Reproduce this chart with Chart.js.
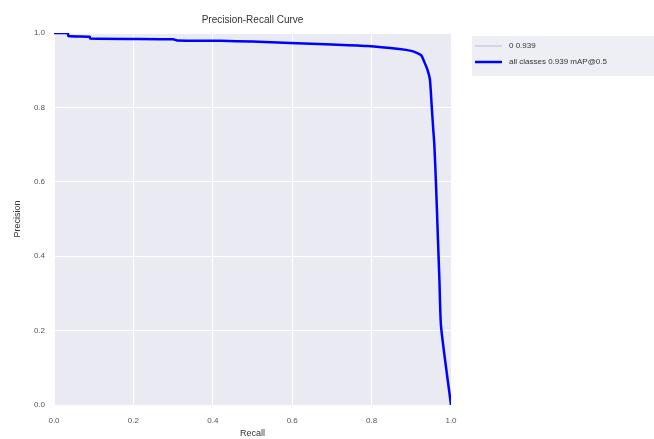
<!DOCTYPE html>
<html>
<head>
<meta charset="utf-8">
<script src="https://cdn.jsdelivr.net/npm/chart.js@4.4.1/dist/chart.umd.min.js"></script>
<style>
  html, body { margin: 0; padding: 0; background: #fff; }
  #wrap { width: 654px; height: 439px; }
</style>
</head>
<body>
<div id="wrap"><canvas id="prChart" width="654" height="439"></canvas></div>
<script>
// values
const recall = [0, 0.035, 0.036, 0.09, 0.091, 0.3, 0.31, 0.42, 0.5, 0.595, 0.7, 0.79, 0.87, 0.9, 0.915, 0.925, 0.934, 0.941, 0.947, 0.951, 0.955, 0.958, 0.962, 0.967, 0.971, 0.975, 1.0];
const precision = [1.0, 1.0, 0.992, 0.99, 0.985, 0.983, 0.98, 0.979, 0.977, 0.973, 0.969, 0.965, 0.957, 0.952, 0.946, 0.94, 0.919, 0.9, 0.874, 0.81, 0.745, 0.7, 0.6, 0.45, 0.33, 0.21, 0.0];
const seriesLabels = ['0 0.939', 'all classes 0.939 mAP@0.5'];
const tickValues = [0, 0.2, 0.4, 0.6, 0.8, 1.0];
const chartTitle = 'Precision-Recall Curve';

const points = recall.map((r, i) => ({ x: r, y: precision[i] }));

const font = 'Liberation Sans, Arial, sans-serif';

// grey plot background like seaborn darkgrid
const plotBg = {
    id: 'plotBg',
    beforeDraw(chart) {
        const { ctx, chartArea: a } = chart;
        ctx.save();
        ctx.fillStyle = '#eaeaf2';
        ctx.fillRect(a.left, a.top, a.right - a.left, a.bottom - a.top);
        ctx.restore();
    }
};

// title centred over the axes, legend box outside on the right
const decorations = {
    id: 'decorations',
    afterDraw(chart) {
        const ctx = chart.ctx;
        const a = chart.chartArea;
        ctx.save();
        ctx.font = '10px ' + font;
        ctx.fillStyle = '#333';
        ctx.textAlign = 'center';
        ctx.textBaseline = 'middle';
        ctx.fillText(chartTitle, (a.left + a.right) / 2, 20);

        const x0 = a.right + 21;
        const y0 = 36;
        ctx.fillStyle = 'rgba(234,234,242,0.8)';
        ctx.fillRect(x0, y0, 654 - x0, 40);
        ctx.font = '8px ' + font;
        ctx.textAlign = 'left';
        const order = [1, 0];
        order.forEach((di, k) => {
            const ds = chart.data.datasets[di];
            const y = y0 + 10 + k * 16;
            ctx.strokeStyle = ds.borderColor;
            ctx.lineWidth = ds.borderWidth;
            ctx.beginPath();
            ctx.moveTo(x0 + 3, y);
            ctx.lineTo(x0 + 30, y);
            ctx.stroke();
            ctx.fillStyle = '#333';
            ctx.fillText(ds.label, x0 + 37, y);
        });
        ctx.restore();
    }
};

const axisCommon = {
    type: 'linear',
    min: 0,
    max: 1,
    border: { display: false },
    grid: { color: '#ffffff', lineWidth: 1, drawTicks: false },
    afterBuildTicks(scale) {
        scale.ticks = tickValues.map(v => ({ value: v }));
    }
};

new Chart(document.getElementById('prChart'), {
    type: 'line',
    data: {
        datasets: [
            {
                label: seriesLabels[1],
                data: points,
                borderColor: '#0000ff',
                borderWidth: 2.5,
                pointRadius: 0,
                tension: 0.2
            },
            {
                label: seriesLabels[0],
                data: points,
                borderColor: '#b8bcd8',
                borderWidth: 1,
                pointRadius: 0,
                tension: 0.2
            }
        ]
    },
    options: {
        responsive: false,
        animation: false,
        layout: { padding: { left: 12, right: 203, top: 33, bottom: 0 } },
        plugins: {
            legend: { display: false },
            tooltip: { enabled: false },
            title: { display: false }
        },
        scales: {
            x: {
                ...axisCommon,
                ticks: {
                    color: '#555',
                    font: { family: font, size: 8 },
                    padding: 11,
                    maxRotation: 0,
                    callback: v => v.toFixed(1)
                },
                title: {
                    display: true,
                    text: 'Recall',
                    color: '#333',
                    font: { family: font, size: 9 },
                    padding: { top: 0, bottom: 0 }
                },
                afterFit(scale) { scale.height = 34; }
            },
            y: {
                ...axisCommon,
                ticks: {
                    color: '#555',
                    font: { family: font, size: 8 },
                    padding: 9,
                    callback: v => v.toFixed(1)
                },
                title: {
                    display: true,
                    text: 'Precision',
                    color: '#333',
                    font: { family: font, size: 9 },
                    padding: { top: 0, bottom: 0 }
                },
                afterFit(scale) { scale.width = 42; }
            }
        }
    },
    plugins: [plotBg, decorations]
});
</script>
</body>
</html>
